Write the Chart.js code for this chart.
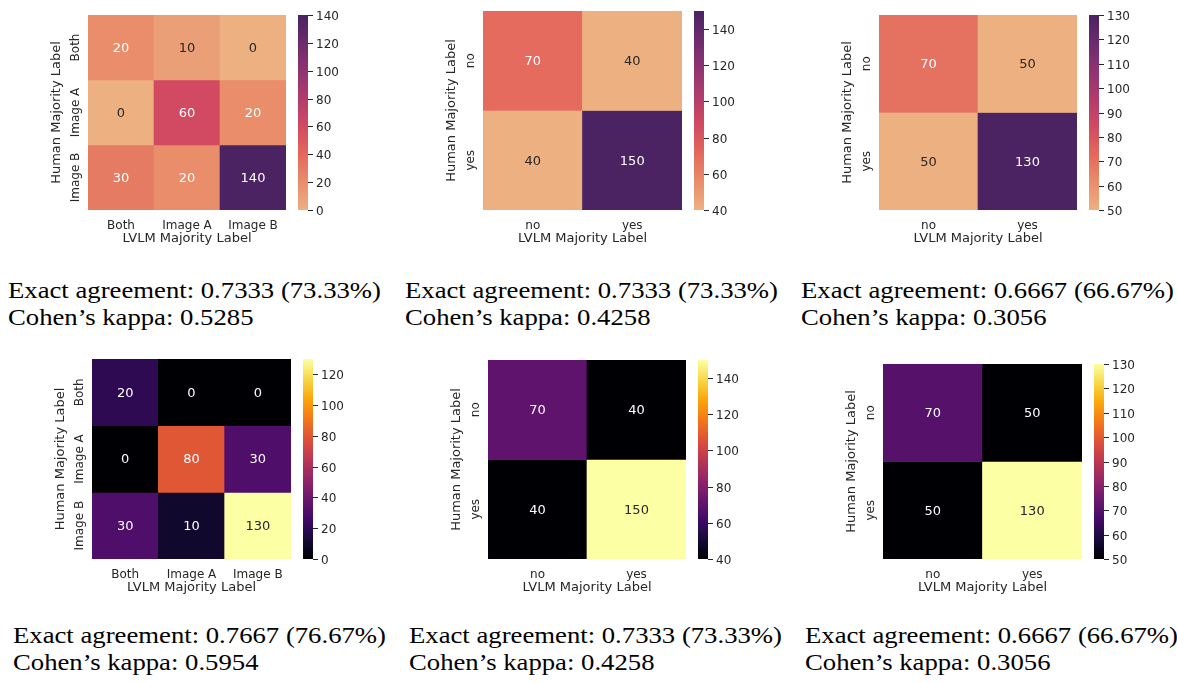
<!DOCTYPE html>
<html>
<head>
<meta charset="utf-8">
<script src="https://cdn.jsdelivr.net/npm/chart.js@4.4.0/dist/chart.umd.min.js"></script>
<style>
  html, body { margin: 0; padding: 0; background: #fff; }
  #page { position: relative; width: 1177px; height: 683px; overflow: hidden; }
  canvas { position: absolute; }
  .stats { position: absolute; font-family: 'Liberation Serif', serif; font-size: 23px; line-height: 27px; color: #000; white-space: nowrap; transform-origin: 0 0; }
  .stats span { display: block; }
</style>
</head>
<body>
<div id="page"></div>
<script>
// category labels
const threeWayLabels = ['Both', 'Image A', 'Image B'];
const yesNoLabels = ['no', 'yes'];

// counts: rows = human majority label, columns = LVLM majority label
const countsTopLeft = [[20, 10, 0], [0, 60, 20], [30, 20, 140]];
const countsTopMid = [[70, 40], [40, 150]];
const countsTopRight = [[70, 50], [50, 130]];
const countsBottomLeft = [[20, 0, 0], [0, 80, 30], [30, 10, 130]];
const countsBottomMid = [[70, 40], [40, 150]];
const countsBottomRight = [[70, 50], [50, 130]];

// colorbar tick labels
const cbTicks0to140 = [0, 20, 40, 60, 80, 100, 120, 140];
const cbTicks40to140 = [40, 60, 80, 100, 120, 140];
const cbTicks50to130 = [50, 60, 70, 80, 90, 100, 110, 120, 130];
const cbTicks0to120 = [0, 20, 40, 60, 80, 100, 120];

const agreement = ['0.7333 (73.33%)', '0.7333 (73.33%)', '0.6667 (66.67%)', '0.7667 (76.67%)', '0.7333 (73.33%)', '0.6667 (66.67%)'];
const kappa = ['0.5285', '0.4258', '0.3056', '0.5954', '0.4258', '0.3056'];

// colormaps (evenly spaced stops)
const flare = ['#edb081', '#e98d6b', '#e3685c', '#d14a61', '#b13c6c', '#8f3371', '#6c2b6d', '#4b2362'];
const inferno = ['#000004', '#160b39', '#420a68', '#6a176e', '#932667', '#bc3754', '#dd513a', '#f37819', '#fca50a', '#f6d746', '#fcffa4'];

const TEXT = '#262626';
const SANS = '"DejaVu Sans", sans-serif';

function hexToRgb(h) {
  return [parseInt(h.slice(1, 3), 16), parseInt(h.slice(3, 5), 16), parseInt(h.slice(5, 7), 16)];
}

function sampleMap(stops, t) {
  t = Math.max(0, Math.min(1, t));
  const pos = t * (stops.length - 1);
  const i = Math.min(Math.floor(pos), stops.length - 2);
  const f = pos - i;
  const a = hexToRgb(stops[i]), b = hexToRgb(stops[i + 1]);
  const c = a.map((v, k) => Math.round(v + (b[k] - v) * f));
  return 'rgb(' + c.join(',') + ')';
}

function luminance(rgb) {
  const c = rgb.match(/\d+/g).map(Number).map(v => {
    v /= 255;
    return v <= 0.03928 ? v / 12.92 : Math.pow((v + 0.055) / 1.055, 2.4);
  });
  return 0.2126 * c[0] + 0.7152 * c[1] + 0.0722 * c[2];
}

const heatmapDecor = {
  id: 'heatmapDecor',
  afterDatasetsDraw(chart, args, opts) {
    const { ctx, chartArea } = chart;
    const xs = chart.scales.x, ys = chart.scales.y, cb = chart.scales.cb;
    ctx.save();

    // numbers in the cells
    ctx.font = '13px ' + SANS;
    ctx.textAlign = 'center';
    ctx.textBaseline = 'middle';
    chart.data.datasets.forEach((ds, r) => {
      chart.getDatasetMeta(r).data.forEach((bar, c) => {
        ctx.fillStyle = luminance(ds.backgroundColor[c]) > 0.408 ? TEXT : '#ffffff';
        ctx.fillText(String(ds.values[c]), bar.x, (bar.y + bar.base) / 2 + 1);
      });
    });

    // x tick labels + title
    ctx.fillStyle = TEXT;
    ctx.textBaseline = 'alphabetic';
    ctx.font = '12px ' + SANS;
    chart.data.labels.forEach((lab, i) => {
      ctx.fillText(lab, xs.getPixelForValue(i), chartArea.bottom + 19);
    });
    ctx.font = '13px ' + SANS;
    ctx.fillText('LVLM Majority Label', (chartArea.left + chartArea.right) / 2, chartArea.bottom + 32);

    // y tick labels (rotated) + title
    ctx.font = '12px ' + SANS;
    opts.rowLabels.forEach((lab, r) => {
      ctx.save();
      ctx.translate(chartArea.left - 9, ys.getPixelForValue(r + 0.5));
      ctx.rotate(-Math.PI / 2);
      ctx.fillText(lab, 0, 0);
      ctx.restore();
    });
    ctx.save();
    ctx.font = '13px ' + SANS;
    ctx.translate(chartArea.left - 28, (chartArea.top + chartArea.bottom) / 2);
    ctx.rotate(-Math.PI / 2);
    ctx.fillText('Human Majority Label', 0, 0);
    ctx.restore();

    // colorbar
    const cbLeft = chartArea.right + 12, cbWidth = 10;
    const yBot = cb.getPixelForValue(cb.min), yTop = cb.getPixelForValue(cb.max);
    const grad = ctx.createLinearGradient(0, yBot, 0, yTop);
    opts.cmap.forEach((col, i) => grad.addColorStop(i / (opts.cmap.length - 1), col));
    ctx.fillStyle = grad;
    ctx.fillRect(cbLeft, yTop, cbWidth, yBot - yTop);

    ctx.strokeStyle = TEXT;
    ctx.lineWidth = 1;
    ctx.fillStyle = TEXT;
    ctx.font = '12px ' + SANS;
    ctx.textAlign = 'left';
    ctx.textBaseline = 'middle';
    opts.ticks.forEach(v => {
      const py = Math.round(cb.getPixelForValue(v)) + 0.5;
      ctx.beginPath();
      ctx.moveTo(cbLeft + cbWidth, py);
      ctx.lineTo(cbLeft + cbWidth + 5, py);
      ctx.stroke();
      ctx.fillText(String(v), cbLeft + cbWidth + 8, py + 1);
    });
    ctx.restore();
  }
};

// canvas box [x, y, w, h] and heatmap area [x0, y0, x1, y1] in page pixels
const panels = [
  { counts: countsTopLeft, labels: threeWayLabels, cmap: flare, ticks: cbTicks0to140, box: [0, 0, 392, 262], area: [88, 15, 286, 210], text: [8, 298] },
  { counts: countsTopMid, labels: yesNoLabels, cmap: flare, ticks: cbTicks40to140, box: [392, 0, 392, 262], area: [483, 11, 682, 210], text: [405, 298] },
  { counts: countsTopRight, labels: yesNoLabels, cmap: flare, ticks: cbTicks50to130, box: [785, 0, 392, 262], area: [879, 15, 1077, 210], text: [801, 298] },
  { counts: countsBottomLeft, labels: threeWayLabels, cmap: inferno, ticks: cbTicks0to120, box: [0, 340, 392, 270], area: [92, 359, 291, 559], text: [13, 643] },
  { counts: countsBottomMid, labels: yesNoLabels, cmap: inferno, ticks: cbTicks40to140, box: [392, 340, 392, 270], area: [488, 360, 686, 559], text: [409, 643] },
  { counts: countsBottomRight, labels: yesNoLabels, cmap: inferno, ticks: cbTicks50to130, box: [785, 340, 392, 270], area: [883, 364, 1082, 559], text: [805, 643] }
];

const page = document.getElementById('page');

panels.forEach((p, idx) => {
  const canvas = document.createElement('canvas');
  canvas.width = p.box[2];
  canvas.height = p.box[3];
  canvas.style.left = p.box[0] + 'px';
  canvas.style.top = p.box[1] + 'px';
  page.appendChild(canvas);

  const flat = p.counts.flat();
  const vmin = Math.min(...flat), vmax = Math.max(...flat);
  const colorFor = v => sampleMap(p.cmap, (v - vmin) / (vmax - vmin));

  new Chart(canvas, {
    type: 'bar',
    data: {
      labels: p.labels,
      datasets: p.counts.map((row, r) => ({
        label: p.labels[r],
        data: row.map(() => [r, r + 1]),
        values: row,
        backgroundColor: row.map(colorFor),
        borderWidth: 0,
        barPercentage: 1,
        categoryPercentage: 1,
        grouped: false
      }))
    },
    options: {
      responsive: false,
      animation: false,
      devicePixelRatio: 1,
      layout: {
        padding: {
          left: p.area[0] - p.box[0],
          top: p.area[1] - p.box[1],
          right: p.box[0] + p.box[2] - p.area[2],
          bottom: p.box[1] + p.box[3] - p.area[3]
        }
      },
      plugins: {
        legend: { display: false },
        tooltip: { enabled: false },
        heatmapDecor: { cmap: p.cmap, ticks: p.ticks, rowLabels: p.labels }
      },
      scales: {
        x: { type: 'category', display: false, offset: true },
        y: { type: 'linear', display: false, min: 0, max: p.labels.length, reverse: true },
        cb: { type: 'linear', position: 'right', display: false, min: vmin, max: vmax }
      }
    },
    plugins: [heatmapDecor]
  });

  // agreement text under the panel
  const div = document.createElement('div');
  div.className = 'stats';
  div.style.left = p.text[0] + 'px';
  div.style.top = (p.text[1] - 21.25) + 'px';
  const l1 = document.createElement('span');
  l1.textContent = 'Exact agreement: ' + agreement[idx];
  const l2 = document.createElement('span');
  l2.textContent = 'Cohen\u2019s kappa: ' + kappa[idx];
  div.appendChild(l1);
  div.appendChild(l2);
  page.appendChild(div);
  l1.style.display = 'inline-block';
  const w = l1.getBoundingClientRect().width;
  l1.style.display = 'block';
  div.style.transform = 'scaleX(' + (373 / w) + ')';
});
</script>
</body>
</html>
